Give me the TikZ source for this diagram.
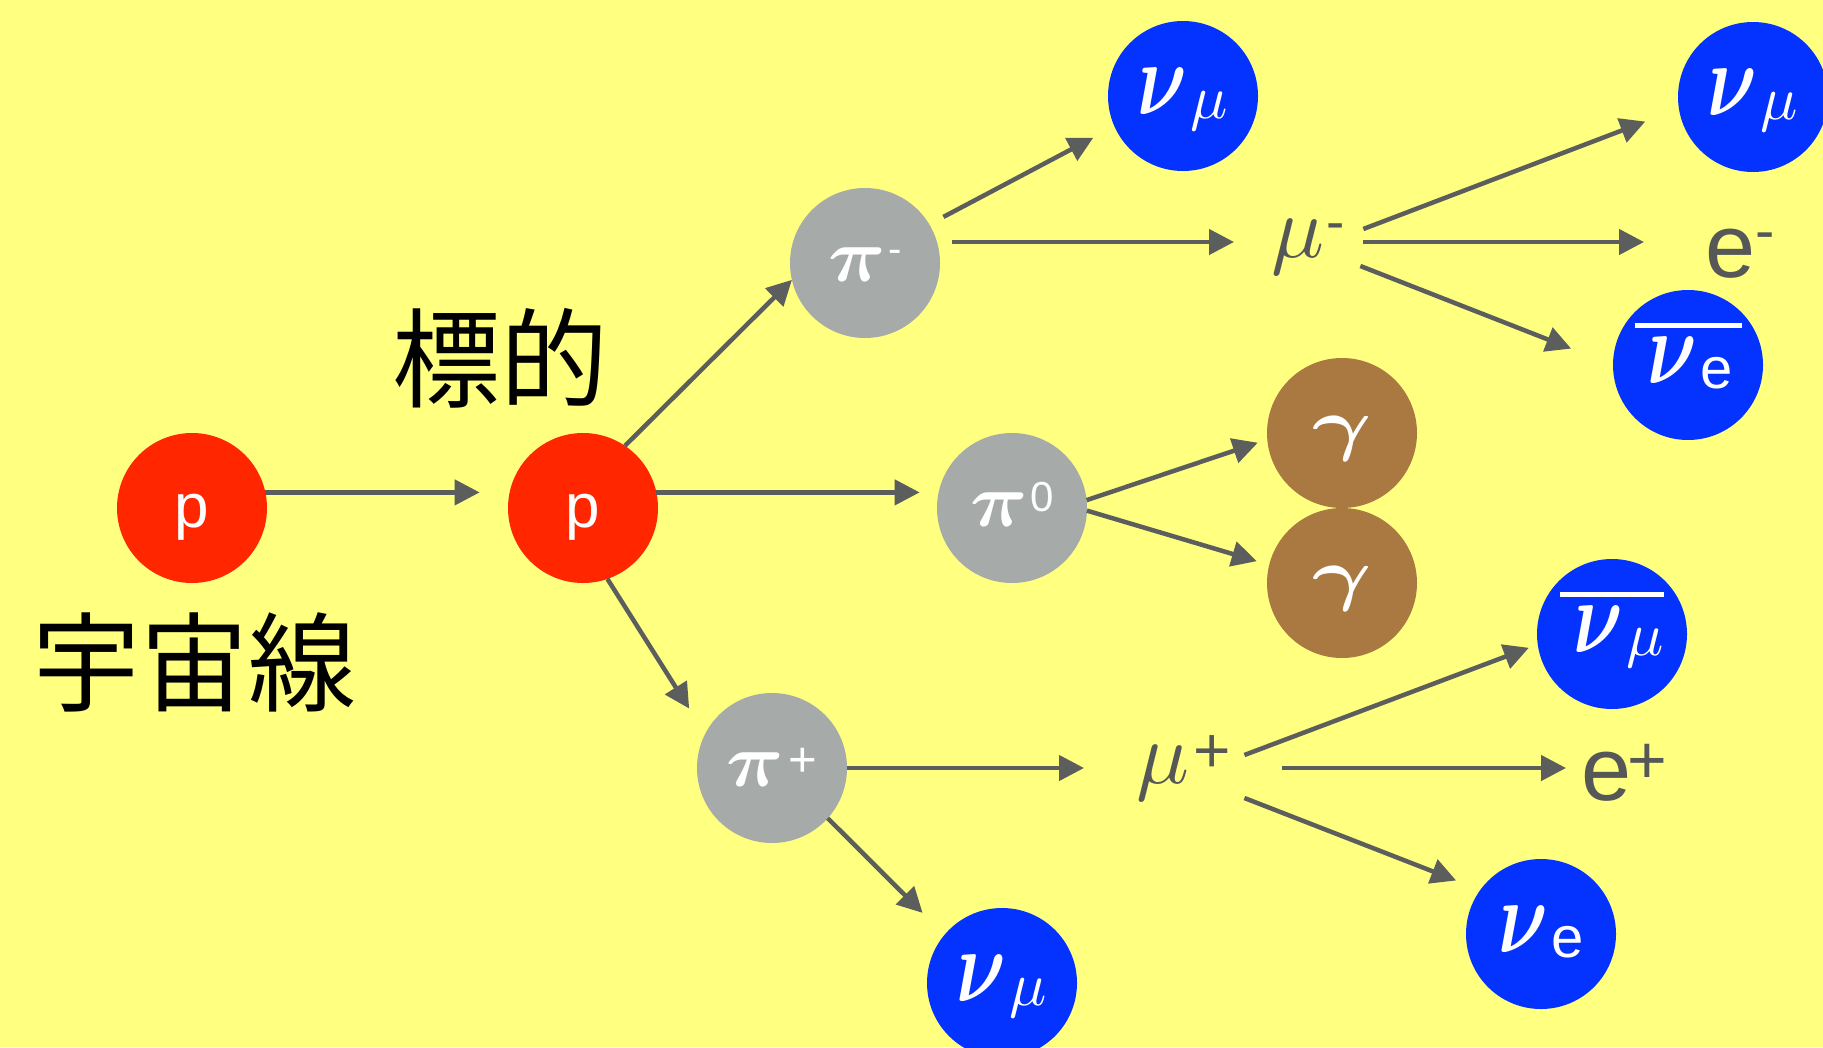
\documentclass[tikz,border=0pt]{standalone}
\usepackage{fontspec}
\usepackage{graphicx}
\usetikzlibrary{arrows.meta}
\DeclareFontShape{OML}{cmm}{m}{it}{<->cmmi10}{}
\DeclareFontShape{OML}{cmm}{b}{it}{<->cmmib10}{}
\DeclareFontShape{OMS}{cmsy}{m}{n}{<->cmsy10}{}
\DeclareFontShape{OMS}{cmsy}{b}{n}{<->cmbsy10}{}
\newfontfamily\lsans{Liberation Sans}
\newfontfamily\cjk{Noto Sans CJK JP}
\definecolor{bg}{HTML}{FFFF80}
\definecolor{pred}{HTML}{FF2600}
\definecolor{pgrey}{HTML}{A6AAA9}
\definecolor{pblue}{HTML}{0433FF}
\definecolor{pbrown}{HTML}{AA7942}
\definecolor{arrowc}{HTML}{5B5E5D}
\definecolor{txtc}{HTML}{555857}
\newcommand\gk[2]{{\fontsize{#1}{#1}\selectfont$#2$}}
\newcommand\gkb[2]{{\fontsize{#1}{#1}\selectfont\boldmath$#2$}}
\newcommand\supx[3]{\raisebox{#2}{\fontsize{#1}{#1}\selectfont\lsans #3}}
\newcommand\bignu{\scalebox{0.74}[1]{\gkb{104}{\nu}}}
\newcommand\biggam{\scalebox{1.3}[1]{\gkb{70}{\gamma}}}
\newcommand\bigpi{\scalebox{1.05}[1]{\gkb{76}{\pi}}}
\newcommand\barred[3]{\setbox0=\hbox{#3}\vbox{\hrule height 5pt width \dimexpr\wd0+#1+#2\relax\kern9pt\hbox{\kern#1\box0\kern#2}}}
\tikzset{
 ball/.style={circle, minimum size=150pt, inner sep=0pt, outer sep=0pt, text=white, text depth=0pt},
 proton/.style={ball, fill=pred, text height=38pt},
 pion/.style={ball, fill=pgrey, text height=36pt},
 neutrino/.style={ball, fill=pblue, text height=36pt},
 photon/.style={ball, fill=pbrown, text height=28pt},
 lepton/.style={inner sep=0pt, outer sep=0pt, text=txtc, text height=40pt, text depth=10pt, anchor=base west},
 kanji/.style={inner sep=0pt, text=black, font=\cjk\fontsize{108}{108}\selectfont},
 arr/.style={draw=arrowc, line width=4.5pt, -{Triangle[length=25pt,width=25pt]}},
}
\begin{document}
\begin{tikzpicture}[x=1pt,y=-1pt]
\useasboundingbox (0,0) rectangle (1823,1047);
\clip (0,0) rectangle (1823,1047);
\fill[bg] (0,0) rectangle (1823,1047);

% particles
\node[proton] (p1) at (192,508) {\fontsize{62}{62}\selectfont\lsans p};
\node[proton] (p2) at (583,508) {\fontsize{62}{62}\selectfont\lsans p};
\node[pion] (pim) at (865,263) {\bigpi\kern2pt\supx{40}{19pt}{-}};
\node[pion] (pizero) at (1012,508) {\bigpi\kern3pt\supx{42}{15pt}{0}};
\node[pion] (pip) at (772,768) {\bigpi\kern4pt\supx{49}{10pt}{+}};
\node[neutrino] (nuone) at (1183,96) {\bignu\kern3pt\raisebox{-4pt}{\gk{62}{\mu}}};
\node[neutrino] (nutwo) at (1753,97) {\bignu\kern3pt\raisebox{-4pt}{\gk{62}{\mu}}};
\node[neutrino] (nubare) at (1688,365) {\barred{13pt}{9pt}{\bignu\kern3pt\raisebox{-5pt}{\fontsize{58}{58}\selectfont\lsans e}}};
\node[photon] (gamone) at (1342,433) {\biggam};
\node[photon] (gamtwo) at (1342,583) {\biggam};
\node[neutrino] (nubarmu) at (1612,634) {\barred{14pt}{0pt}{\bignu\kern3pt\raisebox{-3pt}{\gk{62}{\mu}}}};
\node[neutrino] (nue) at (1541,934) {\bignu\kern3pt\raisebox{-5pt}{\fontsize{58}{58}\selectfont\lsans e}};
\node[neutrino] (nuthree) at (1002,983) {\bignu\kern3pt\raisebox{-4pt}{\gk{62}{\mu}}};

% leptons
\node[lepton] (mum) at (1271,257) {\gk{88}{\mu}\kern2pt\supx{55}{17pt}{-}};
\node[lepton] (em) at (1705,277) {\fontsize{90}{90}\selectfont\lsans e\supx{58}{27pt}{-}};
\node[lepton] (mup) at (1136,783) {\gk{88}{\mu}\kern4pt\supx{64}{11pt}{+}};
\node[lepton] (ep) at (1581,800) {\fontsize{90}{90}\selectfont\lsans e\kern-4pt\supx{68}{17pt}{+}};

% labels
\node[kanji] (target) at (500,358) {標的};
\node[kanji] (cosmic) at (194,662) {宇宙線};

% connectors
\draw[arr, shorten >=30pt] (p1.12) -- (p2.168);
\draw[arr, shorten >=19pt] (p2.12) -- (pizero.168);
\draw[arr] (p2.56) -- (pim.193);
\draw[arr, shorten >=30pt] (p2.-71) -- (pip.153);
\draw[arr, shorten <=16pt, shorten >=24pt] (pim.31) -- (nuone.204);
\draw[arr, shorten <=12pt, shorten >=37pt] (mum.west -| pim.east) -- (mum.west);
\draw[arr, shorten >=36pt] ([shift={(19pt,13pt)}]mum.east) -- (nutwo.189);
\draw[arr, shorten <=19pt, shorten >=61pt] (mum.east) -- (mum.east -| em.west);
\draw[arr, shorten >=45pt] ([shift={(16pt,-24pt)}]mum.east) -- (nubare.180);
\draw[arr, shorten >=10pt] (pizero.6) -- (gamone.185);
\draw[arr, shorten >=13pt] (pizero.-2) -- (gamtwo.166);
\draw[arr, shorten >=52pt] (pip.east) -- (pip.east -| mup.west);
\draw[arr, shorten >=31pt] (pip.-42) -- (nuthree.140);
\draw[arr, shorten >=9.5pt] ([shift={(14pt,13pt)}]mup.east) -- (nubarmu.188);
\draw[arr, shorten <=52pt, shorten >=15pt] (mup.east) -- (mup.east -| ep.west);
\draw[arr, shorten >=26pt] ([shift={(14pt,-30pt)}]mup.east) -- (nue.144);
\end{tikzpicture}
\end{document}
